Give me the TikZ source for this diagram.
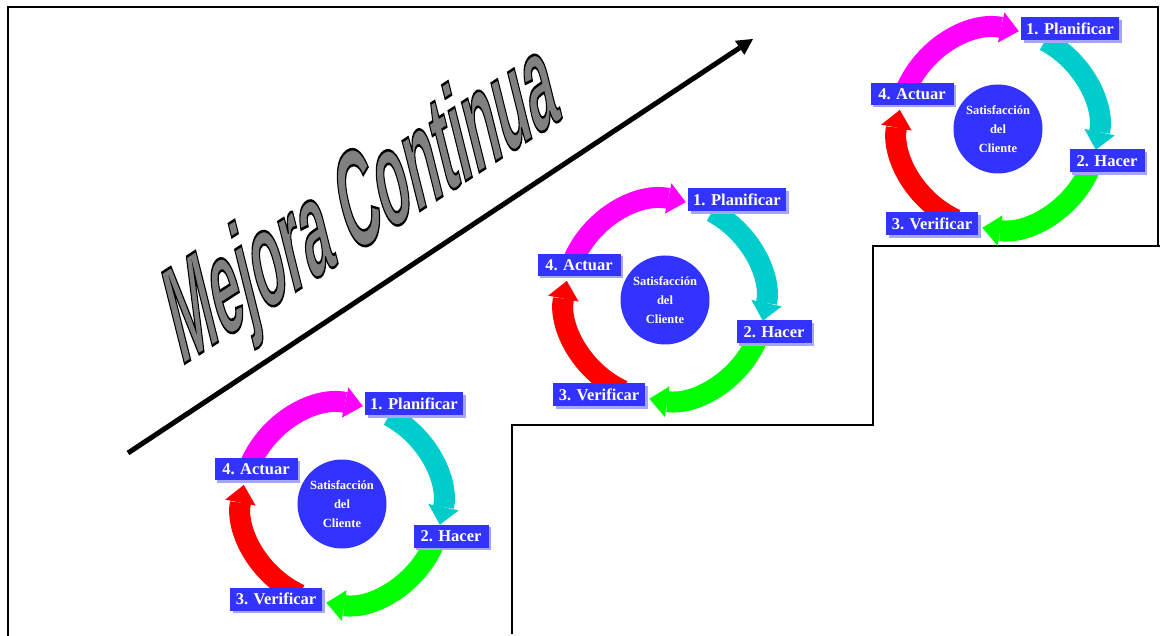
\documentclass[tikz,border=0pt]{standalone}
\usepackage{fontspec}
\setmainfont{Liberation Serif}
\newfontfamily\wafont{Liberation Sans}
\usetikzlibrary{arrows.meta,shadows}
\definecolor{boxblue}{RGB}{51,51,255}
\definecolor{shadowblue}{RGB}{165,165,255}
\definecolor{cmag}{RGB}{255,0,255}
\definecolor{ccyan}{RGB}{0,204,204}
\definecolor{cgreen}{RGB}{0,255,0}
\definecolor{cred}{RGB}{255,0,0}
\definecolor{titlegray}{RGB}{128,128,128}
\tikzset{
  frameline/.style={line width=2.2pt, black},
  band/.style={line width=21pt},
  bandtip/.style={-{Triangle[length=18pt,width=31pt,line width=0pt]}},
  stepbox/.style={fill=boxblue, text=white, font=\fontsize{16.5}{18}\selectfont\bfseries,
    inner sep=0pt, minimum height=23pt,
    copy shadow={shadow xshift=2.5pt, shadow yshift=-2.5pt, fill=shadowblue, draw=none}},
  centrebox/.style={circle, fill=boxblue, text=white, minimum size=89pt, inner sep=0pt,
    align=center, font=\fontsize{12.5}{19}\selectfont\bfseries},
  pdca/.pic={
    \draw[band, bandtip, cmag]   (-160:100) arc[start angle=-160, end angle=-78, radius=100];
    \draw[band, bandtip, ccyan]  (-62:100)  arc[start angle=-62,  end angle=12,  radius=100];
    \draw[band, bandtip, cgreen] (24:100)   arc[start angle=24,   end angle=99,  radius=100];
    \draw[band, bandtip, cred]   (115:100)  arc[start angle=115,  end angle=191, radius=100];
    \node[stepbox, minimum width=98pt] (-plan) at (72,-100) {1. Planificar};
    \node[stepbox, minimum width=75pt] (-hacer) at (109,32) {2. Hacer};
    \node[stepbox, minimum width=92pt] (-verif) at (-66,95) {3. Verificar};
    \node[stepbox, minimum width=83pt, minimum height=22pt] (-actuar) at (-86,-35) {4. Actuar};
    \node[centrebox] (-centre) at (0,0) {Satisfacción\\del\\Cliente};
  }
}
\begin{document}
\begin{tikzpicture}[x=1pt, y=-1pt]
\useasboundingbox (0,0) rectangle (1160,636);
% frame and steps
\draw[frameline] (8,636) -- (8,7) -- (1158,7) -- (1158,246);
\draw[frameline] (1160,246) -- (873,246) -- (873,425) -- (512,425) -- (512,634);
% improvement arrow
\coordinate (arrowstart) at (128,453);
\coordinate (arrowend) at (753,39);
\draw[line width=5pt, -{Triangle[length=16pt,width=17pt,line width=0pt]}] (arrowstart) -- (arrowend);
% title
\node[anchor=base west, inner sep=0pt, rotate=33, xslant=0.344, yscale=2.22, text=titlegray,
  font=\wafont\bfseries\fontsize{58}{62}\selectfont] (title) at (181,366)
  {\special{pdf:literal direct 2 Tr 1.1 w 0 G}Mejora Continua\special{pdf:literal direct 0 Tr}};
% three PDCA cycles
\pic (cycA) at (342,504) {pdca};
\pic (cycB) at (665,300) {pdca};
\pic (cycC) at (998,129) {pdca};
\end{tikzpicture}
\end{document}
